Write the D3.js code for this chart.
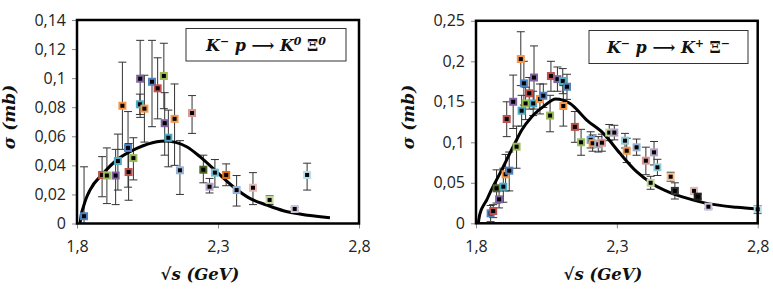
<!DOCTYPE html>
<html><head><meta charset="utf-8">
<script src="https://cdn.jsdelivr.net/npm/d3@7"></script>
<style>body{margin:0;background:#fff}</style>
</head><body><svg id="c" width="773" height="290"></svg>
<script>
// ---------- Left panel: K- p -> K0 Xi0 ----------
const leftX = [1.825,1.889,1.906,1.937,1.945,1.961,1.981,1.983,2.000,2.023,2.024,2.039,2.066,2.086,2.108,2.111,2.124,2.146,2.165,2.208,2.248,2.270,2.289,2.329,2.366,2.424,2.483,2.572,2.616];
const leftY = [0.005,0.0334,0.033,0.033,0.043,0.081,0.052,0.0354,0.045,0.082,0.0996,0.079,0.0975,0.093,0.1015,0.069,0.059,0.072,0.0366,0.076,0.037,0.0253,0.035,0.0334,0.023,0.0246,0.0162,0.010,0.0334];
const leftHi = [0.039,0.046,0.052,0.051,0.0615,0.111,0.077,0.055,0.059,0.089,0.126,0.102,0.126,0.114,0.124,0.090,0.078,0.096,0.057,0.088,0.047,0.031,0.044,0.041,0.033,0.035,0.019,0.011,0.0415];
const leftLo = [0.0,0.0184,0.0137,0.013,0.023,0.051,0.025,0.016,0.030,0.075,0.073,0.056,0.0666,0.072,0.079,0.047,0.039,0.040,0.020,0.062,0.028,0.021,0.025,0.026,0.012,0.013,0.013,0.009,0.023];
const leftColors = ["#4F81BD","#C0504D","#9BBB59","#8064A2","#4BACC6","#F79646","#4F81BD","#C0504D","#9BBB59","#4BACC6","#8064A2","#F79646","#4F81BD","#C0504D","#9BBB59","#8064A2","#4BACC6","#F79646","#95B3D7","#D99694","#4F6228","#B3A2C7","#6FBFD4","#E46C0A","#95B3D7","#E6B9B8","#C3D69B","#CCC1DA","#B7DEE8"];
const leftCurveX = [1.811,1.815,1.822,1.832,1.846,1.893,1.941,2.012,2.083,2.112,2.150,2.189,2.236,2.307,2.354,2.413,2.473,2.532,2.590,2.697];
const leftCurveY = [0,0.006,0.011,0.017,0.023,0.0345,0.0437,0.0517,0.0563,0.0568,0.0558,0.0528,0.046,0.0334,0.0253,0.0173,0.0127,0.0088,0.0065,0.004];
const leftYTicks = [0,0.02,0.04,0.06,0.08,0.1,0.12,0.14];
const leftYLabels = ["0","0,02","0,04","0,06","0,08","0,1","0,12","0,14"];

// ---------- Right panel: K- p -> K+ Xi- ----------
const rightX = [1.852,1.861,1.882,1.873,1.897,1.905,1.918,1.944,1.909,1.932,1.959,1.962,1.970,1.976,1.989,2.003,2.006,2.027,2.039,2.063,2.066,2.089,2.108,2.123,2.110,2.151,2.173,2.207,2.214,2.234,2.247,2.273,2.291,2.329,2.335,2.370,2.403,2.432,2.444,2.420,2.491,2.506,2.574,2.587,2.625,2.800];
const rightY = [0.0123,0.0152,0.0296,0.0432,0.0452,0.0605,0.065,0.0946,0.1288,0.150,0.2028,0.139,0.1728,0.148,0.1605,0.148,0.180,0.1535,0.1575,0.133,0.1818,0.178,0.1757,0.1686,0.1448,0.119,0.100,0.103,0.0988,0.0975,0.0995,0.112,0.112,0.102,0.0896,0.0938,0.0773,0.0876,0.0691,0.050,0.0575,0.040,0.040,0.0329,0.0205,0.0173];
const rightHi = [0.022,0.023,0.040,0.066,0.068,0.085,0.088,0.120,0.150,0.183,0.2365,0.158,0.200,0.168,0.180,0.163,0.219,0.172,0.172,0.158,0.200,0.193,0.191,0.184,0.170,0.138,0.116,0.113,0.109,0.107,0.110,0.122,0.121,0.111,0.105,0.104,0.094,0.101,0.079,0.058,0.063,0.050,0.044,0.036,0.023,0.022];
const rightLo = [0.002,0.007,0.019,0.025,0.026,0.040,0.040,0.068,0.107,0.117,0.170,0.120,0.146,0.128,0.141,0.133,0.141,0.135,0.143,0.113,0.163,0.163,0.160,0.153,0.120,0.100,0.084,0.093,0.089,0.088,0.089,0.102,0.103,0.093,0.075,0.084,0.060,0.072,0.059,0.042,0.052,0.030,0.036,0.030,0.018,0.012];
const rightColors = ["#4F81BD","#C0504D","#8064A2","#4F6228","#4BACC6","#F79646","#4F81BD","#9BBB59","#C0504D","#8064A2","#F79646","#4BACC6","#4F81BD","#9BBB59","#C0504D","#4BACC6","#8064A2","#F79646","#4F81BD","#9BBB59","#C0504D","#8064A2","#4BACC6","#4F81BD","#F79646","#C0504D","#9BBB59","#6FA8DC","#F79646","#95B3D7","#D99694","#C3D69B","#B3A2C7","#93CDDD","#F79646","#95B3D7","#D99694","#B3A2C7","#93CDDD","#C3D69B","#FAC090","#333333","#E6B9B8","#222222","#CCC1DA","#B7DEE8"];
const rightCurveX = [1.808,1.811,1.818,1.828,1.838,1.850,1.885,1.938,1.962,1.998,2.039,2.083,2.134,2.193,2.252,2.311,2.370,2.430,2.489,2.548,2.607,2.725,2.800];
const rightCurveY = [0,0.007,0.016,0.023,0.0288,0.038,0.0617,0.0988,0.1148,0.1316,0.144,0.1535,0.148,0.1275,0.111,0.0864,0.0637,0.048,0.038,0.031,0.0255,0.0197,0.0177];
const rightYTicks = [0,0.05,0.1,0.15,0.2,0.25];
const rightYLabels = ["0","0,05","0,1","0,15","0,2","0,25"];

const xTicks = [1.8,2.3,2.8];
const xLabels = ["1,8","2,3","2,8"];

const svg = d3.select("#c");
svg.append("rect").attr("width",773).attr("height",290).attr("fill","#fff");

function panel(o){
  const g = svg.append("g");
  const x = d3.scaleLinear().domain([1.8,2.8]).range([o.x0,o.x1]);
  const y = d3.scaleLinear().domain([0,o.ymax]).range([o.y0,o.y1]);

  const ya = d3.axisLeft(y).tickValues(o.yTicks).tickSize(5).tickPadding(6)
      .tickFormat((d,i)=>o.yLabels[i]);
  const yg = g.append("g").attr("transform",`translate(${o.x0},0)`).call(ya);
  const xa = d3.axisBottom(x).tickValues(xTicks).tickSize(5).tickPadding(12)
      .tickFormat((d,i)=>xLabels[i]);
  const xg = g.append("g").attr("transform",`translate(0,${o.y0})`).call(xa);
  [yg,xg].forEach(a=>{
    a.select(".domain").remove();
    a.selectAll(".tick line").attr("stroke","#888");
    a.selectAll(".tick text").attr("font-family","Open Sans, sans-serif")
      .attr("font-size",16).attr("fill","#222");
  });

  const eb = g.append("g").attr("stroke","#333").attr("stroke-width",1);
  o.xs.forEach((xv,i)=>{
    const px = x(xv);
    eb.append("line").attr("x1",px).attr("x2",px).attr("y1",y(o.hi[i])).attr("y2",y(o.lo[i]));
    eb.append("line").attr("x1",px-4).attr("x2",px+4).attr("y1",y(o.hi[i])).attr("y2",y(o.hi[i]));
    if(o.lo[i]>0) eb.append("line").attr("x1",px-4).attr("x2",px+4).attr("y1",y(o.lo[i])).attr("y2",y(o.lo[i]));
  });

  const line = d3.line().x(d=>x(d[0])).y(d=>y(d[1])).curve(d3.curveMonotoneX);
  g.append("path").datum(o.cx.map((v,i)=>[v,o.cy[i]])).attr("d",line)
    .attr("fill","none").attr("stroke","#000").attr("stroke-width",3);

  g.append("g").selectAll("rect").data(o.xs).join("rect")
    .attr("x",(d)=>x(d)-3).attr("y",(d,i)=>y(o.ys[i])-3)
    .attr("width",6).attr("height",6)
    .attr("fill","#000").attr("stroke",(d,i)=>o.colors[i]).attr("stroke-width",2);

  g.append("rect").attr("x",o.x0).attr("y",o.y1).attr("width",o.x1-o.x0).attr("height",o.y0-o.y1)
    .attr("fill","none").attr("stroke","#000").attr("stroke-width",2.5);

  g.append("rect").attr("x",o.lx).attr("y",o.ly).attr("width",o.lw).attr("height",o.lh)
    .attr("fill","#fff").attr("stroke","#333").attr("stroke-width",1);
  const t = g.append("text").attr("x",o.lx+o.lw/2).attr("y",o.ly+o.lh/2+6)
    .attr("text-anchor","middle").attr("font-family","DejaVu Serif, serif")
    .attr("font-style","italic").attr("font-weight","bold").attr("font-size",16).attr("fill","#111");
  o.legend.forEach(p=>{
    const s = t.append("tspan").text(p.t);
    if(p.sup){ s.attr("font-size",11).attr("dy",-6); }
    if(p.back){ s.attr("dy",6); }
    if(p.up){ s.attr("font-style","normal"); }
  });

  svg.append("text").attr("transform",`translate(${o.ytx},117) rotate(-90)`)
    .attr("text-anchor","middle").attr("font-family","DejaVu Serif, serif")
    .attr("font-style","italic").attr("font-weight","bold").attr("font-size",17).attr("fill","#111")
    .text("σ  (mb)");
  svg.append("text").attr("x",o.xtx).attr("y",280)
    .attr("text-anchor","middle").attr("font-family","DejaVu Serif, serif")
    .attr("font-style","italic").attr("font-weight","bold").attr("font-size",16.5).attr("fill","#111")
    .text("√s  (GeV)");
}

panel({x0:77,x1:359,y0:223.5,y1:20,ymax:0.14,yTicks:leftYTicks,yLabels:leftYLabels,
  xs:leftX,ys:leftY,hi:leftHi,lo:leftLo,colors:leftColors,cx:leftCurveX,cy:leftCurveY,
  lx:186,ly:28.5,lw:160,lh:32.5,ytx:15,xtx:200,
  legend:[{t:"K"},{t:"−",sup:1},{t:" p ",back:1},{t:"⟶ ",up:1},{t:"K"},{t:"0",sup:1},{t:" Ξ",back:1,up:1},{t:"0",sup:1}]});
panel({x0:476,x1:757.7,y0:223.3,y1:20.8,ymax:0.25,yTicks:rightYTicks,yLabels:rightYLabels,
  xs:rightX,ys:rightY,hi:rightHi,lo:rightLo,colors:rightColors,cx:rightCurveX,cy:rightCurveY,
  lx:589,ly:30.5,lw:159,lh:33,ytx:414,xtx:603,
  legend:[{t:"K"},{t:"−",sup:1},{t:" p ",back:1},{t:"⟶  ",up:1},{t:"K"},{t:"+",sup:1},{t:" Ξ",back:1,up:1},{t:"−",sup:1}]});
</script></body></html>
